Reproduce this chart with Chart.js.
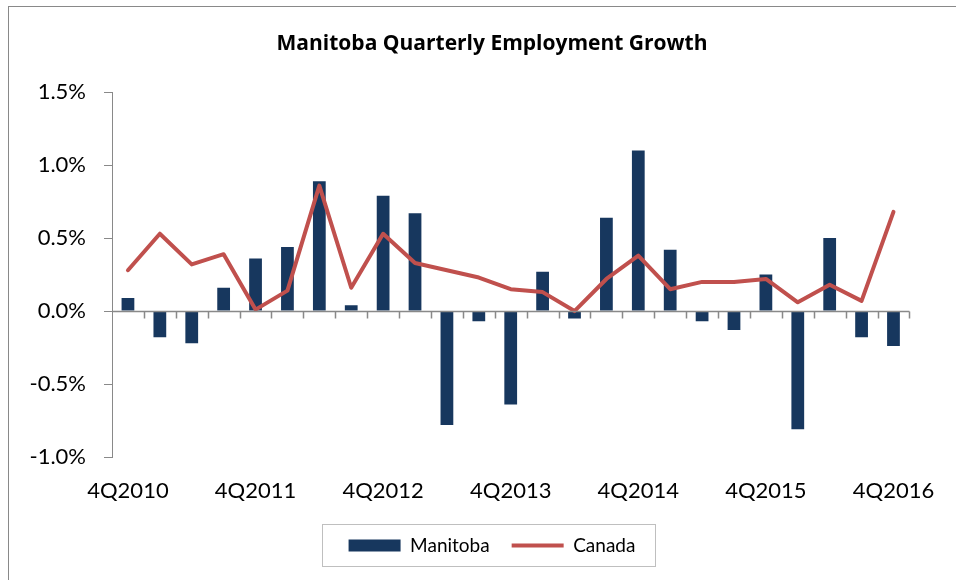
<!DOCTYPE html>
<html>
<head>
<meta charset="utf-8">
<script src="https://cdn.jsdelivr.net/npm/chart.js@4/dist/chart.umd.min.js"></script>
<style>
  body { margin: 0; background: #fff; }
  canvas { display: block; }
</style>
</head>
<body>
<canvas id="chart" width="956" height="580"></canvas>
<script>
const quarters = ['4Q2010','1Q2011','2Q2011','3Q2011','4Q2011','1Q2012','2Q2012','3Q2012','4Q2012',
  '1Q2013','2Q2013','3Q2013','4Q2013','1Q2014','2Q2014','3Q2014','4Q2014',
  '1Q2015','2Q2015','3Q2015','4Q2015','1Q2016','2Q2016','3Q2016','4Q2016']
const manitoba = [0.09,-0.18,-0.22,0.16,0.36,0.44,0.89,0.04,0.79,0.67,-0.78,-0.07,-0.64,
  0.27,-0.05,0.64,1.10,0.42,-0.07,-0.13,0.25,-0.81,0.50,-0.18,-0.24]
const canada = [0.28,0.53,0.32,0.39,0.01,0.14,0.86,0.16,0.53,0.33,0.28,0.23,0.15,
  0.13,0.00,0.22,0.38,0.15,0.20,0.20,0.22,0.06,0.18,0.07,0.68]
const yTicks = [-1.0,-0.5,0.0,0.5,1.0,1.5]

const NAVY = '#17375e', RED = '#c0504d', AXIS = '#898989'
const FONT = 'Lato'

// outer frame + legend box
const frame = {
  id: 'frame',
  afterLayout(chart) {
    // let the y tick labels spill left of the (narrow) axis box without being clipped
    chart.scales.y.left = 0
  },
  beforeDraw(chart) {
    const c = chart.ctx
    c.save()
    c.strokeStyle = AXIS
    c.lineWidth = 1
    c.strokeRect(8.5, 6.5, 1000, 1000)
    c.restore()
  },
  afterDraw(chart) {
    const hb = chart.legend.legendHitBoxes
    if (!hb || !hb.length) return
    const l = Math.min(...hb.map(h => h.left)) - 27
    const r = Math.max(...hb.map(h => h.left + h.width)) + 19
    const mid = hb[0].top + hb[0].height / 2
    const c = chart.ctx
    c.save()
    c.strokeStyle = '#bfbfbf'
    c.lineWidth = 1
    c.strokeRect(Math.round(l) + 0.5, Math.round(mid - 22) + 0.5, Math.round(r - l), 42)
    c.restore()
  }
}

// horizontal axis at zero with tick marks between categories
const zeroAxis = {
  id: 'zeroAxis',
  afterDatasetsDraw(chart) {
    const x = chart.scales.x, y = chart.scales.y, a = chart.chartArea
    const y0 = Math.round(y.getPixelForValue(0)) + 0.5
    const c = chart.ctx
    c.save()
    c.strokeStyle = AXIS
    c.lineWidth = 1.5
    c.beginPath()
    c.moveTo(a.left, y0)
    c.lineTo(a.right, y0)
    for (let i = 1; i <= quarters.length; i++) {
      const px = i < quarters.length
        ? (x.getPixelForValue(i - 1) + x.getPixelForValue(i)) / 2
        : a.right
      c.moveTo(Math.round(px) + 0.5, y0)
      c.lineTo(Math.round(px) + 0.5, y0 + 7)
    }
    c.stroke()
    c.restore()
  }
}

new Chart(document.getElementById('chart'), {
  data: {
    labels: quarters,
    datasets: [{
      type: 'line',
      label: 'Canada',
      data: canada,
      borderColor: RED,
      backgroundColor: RED,
      borderWidth: 4,
      borderCapStyle: 'round',
      borderJoinStyle: 'round',
      pointRadius: 0,
      pointStyle: 'line',
      tension: 0
    }, {
      type: 'bar',
      label: 'Manitoba',
      data: manitoba,
      backgroundColor: NAVY,
      borderWidth: 0,
      pointStyle: 'rect',
      categoryPercentage: 1,
      barPercentage: 0.4
    }]
  },
  options: {
    responsive: false,
    animation: false,
    layout: { padding: { left: 69, right: 41, top: 0, bottom: 15 } },
    plugins: {
      title: {
        display: true,
        text: 'Manitoba Quarterly Employment Growth',
        color: '#000',
        font: { family: 'Open Sans', size: 21, weight: 'bold' },
        padding: { top: 31, bottom: 36 }
      },
      legend: {
        position: 'bottom',
        reverse: true,
        labels: {
          usePointStyle: true,
          pointStyleWidth: 52,
          boxHeight: 12,
          padding: 22,
          color: '#000',
          font: { family: FONT, size: 19 }
        }
      },
      tooltip: { enabled: false }
    },
    scales: {
      x: {
        grid: { display: false, drawTicks: false },
        border: { display: false },
        ticks: {
          autoSkip: false,
          maxRotation: 0,
          padding: 21,
          color: '#000',
          font: { family: FONT, size: 22 },
          callback: (v, i) => i % 4 === 0 ? quarters[i] : ''
        },
        afterFit: s => { s.height = 57 }
      },
      y: {
        min: yTicks[0],
        max: yTicks[yTicks.length - 1],
        afterBuildTicks: s => { s.ticks = yTicks.map(v => ({ value: v })) },
        grid: { drawOnChartArea: false, tickLength: 8, color: AXIS },
        border: { color: AXIS, width: 1 },
        ticks: {
          padding: 18,
          color: '#000',
          font: { family: FONT, size: 22 },
          callback: v => v.toFixed(1) + '%'
        },
        afterFit: s => { s.width = 43 }
      }
    }
  },
  plugins: [frame, zeroAxis]
})
</script>
</body>
</html>
